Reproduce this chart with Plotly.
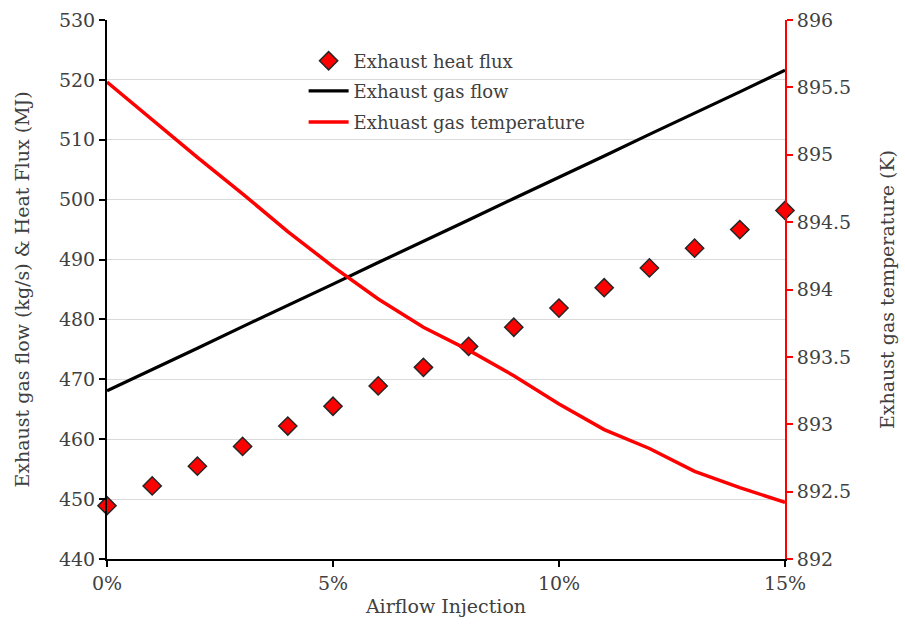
import plotly.graph_objects as go

airflow = [i / 100 for i in range(16)]
heat_flux = [448.9, 452.2, 455.5, 458.8, 462.2, 465.5, 468.9, 472.0, 475.5, 478.7,
             481.9, 485.3, 488.6, 491.9, 495.0, 498.2]
gas_flow = [468.1, 471.6, 475.2, 478.8, 482.3, 485.9, 489.5, 493.0, 496.6, 500.2,
            503.7, 507.3, 510.9, 514.4, 518.0, 521.6]
gas_temp = [895.54, 895.26, 894.98, 894.71, 894.43, 894.17, 893.93, 893.72, 893.55,
            893.36, 893.15, 892.96, 892.82, 892.65, 892.53, 892.42]

FONT = "DejaVu Serif"
TXT = "#404040"

fig = go.Figure()
fig.add_trace(go.Scatter(
    x=airflow, y=heat_flux, mode="markers", name="Exhaust heat flux",
    marker=dict(symbol="diamond", size=14, color="#ff0000",
                line=dict(color="#262626", width=1.5)),
    cliponaxis=False, legend="legend"))
fig.add_trace(go.Scatter(
    x=airflow, y=gas_flow, mode="lines", name="Exhaust gas flow",
    line=dict(color="#000000", width=3.2), cliponaxis=False, legend="legend2"))
fig.add_trace(go.Scatter(
    x=airflow, y=gas_temp, mode="lines", name="Exhuast gas temperature",
    line=dict(color="#ff0000", width=3.5), yaxis="y2", cliponaxis=False,
    legend="legend3"))

leg = dict(x=0.29, xanchor="left", yanchor="middle",
           bgcolor="rgba(0,0,0,0)", font=dict(size=18, color=TXT), itemwidth=40)

fig.update_layout(
    width=905, height=625,
    margin=dict(l=107, r=120, t=20, b=66),
    paper_bgcolor="white", plot_bgcolor="white",
    font=dict(family=FONT, size=18, color=TXT),
    showlegend=True,
    legend=dict(leg, y=0.9238),
    legend2=dict(leg, y=0.868),
    legend3=dict(leg, y=0.8104),
    xaxis=dict(range=[0, 0.15], tickvals=[0, 0.05, 0.10, 0.15], tickformat=".0%",
               showline=True, linecolor="black", linewidth=2,
               ticks="outside", ticklen=6, tickcolor="black", tickwidth=2,
               showgrid=False, zeroline=False, automargin=False,
               title=dict(text="Airflow Injection", font=dict(size=19, color=TXT), standoff=7),
               tickfont=dict(size=19, color=TXT)),
    yaxis=dict(range=[440, 530], dtick=10, showline=True, linecolor="black", linewidth=2,
               ticks="outside", ticklen=6, tickcolor="black", tickwidth=2,
               showgrid=True, gridcolor="#d9d9d9", gridwidth=1.2, zeroline=False,
               automargin=False,
               title=dict(text="Exhaust gas flow (kg/s) & Heat Flux (MJ)",
                          font=dict(size=19, color=TXT), standoff=24),
               tickfont=dict(size=19, color=TXT)),
    yaxis2=dict(range=[892, 896], dtick=0.5, overlaying="y", side="right", anchor="x",
                showline=True, linecolor="#ff0000", linewidth=2,
                ticks="outside", ticklen=6, tickcolor="#ff0000", tickwidth=2,
                showgrid=False, zeroline=False, automargin=False,
                title=dict(text="Exhaust gas temperature (K)",
                           font=dict(size=19, color=TXT), standoff=30),
                tickfont=dict(size=19, color=TXT)),
)

fig.write_html("out.html")
